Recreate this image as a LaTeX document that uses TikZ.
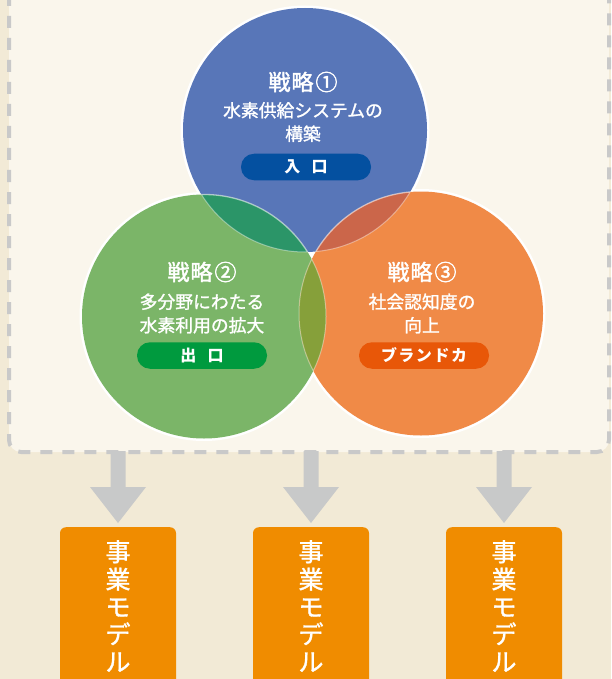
\documentclass[tikz,border=0pt]{standalone}
\usepackage{fontspec}
\newfontfamily\jp{Noto Sans CJK JP}
\newfontfamily\jpm[FakeBold=1.3]{Noto Sans CJK JP}
\newfontfamily\jpb[FakeBold=1.8]{Noto Sans CJK JP}
\usetikzlibrary{calc}
\definecolor{bgout}{HTML}{F2EAD6}
\definecolor{panelc}{HTML}{FAF6EC}
\definecolor{dashc}{HTML}{C9C9C9}
\definecolor{arrowc}{HTML}{C8C9C9}
\definecolor{boxc}{HTML}{F08C00}
\definecolor{cblue}{HTML}{5876B8}
\definecolor{cgreen}{HTML}{7BB568}
\definecolor{corange}{HTML}{F08A47}
\definecolor{cbg}{HTML}{2B9568}
\definecolor{cbo}{HTML}{CB664A}
\definecolor{cgo}{HTML}{86A03A}
\definecolor{pblue}{HTML}{0450A0}
\definecolor{pgreen}{HTML}{009A3E}
\definecolor{porange}{HTML}{E85708}
\tikzset{
  title/.style={text=white, font=\jpb\fontsize{22}{24}\selectfont, inner sep=0pt},
  desc/.style={text=white, align=center, font=\jpm\fontsize{17.8}{23.5}\selectfont, inner sep=0pt},
  pill/.style={text=white, font=\jp\bfseries\fontsize{16}{18}\selectfont, minimum width=130pt, minimum height=26.5pt, rounded corners=13pt, inner sep=0pt},
  bizbox/.style={fill=boxc, rounded corners=6pt, minimum width=116pt, minimum height=170pt, anchor=north, inner sep=0pt},
  biztext/.style={text=white, align=center, anchor=north, inner sep=0pt, font=\jpm\fontsize{25}{27.5}\selectfont},
  blockarrow/.style={fill=arrowc}
}
\begin{document}
\begin{tikzpicture}[x=1pt,y=-1pt]
\useasboundingbox (0,0) rectangle (611,679);
\fill[bgout] (0,0) rectangle (611,679);
% panel
\draw[dashc, line width=4pt, dash pattern=on 12pt off 10pt, fill=panelc, rounded corners=12pt] (9,-40) rectangle (609,452);
% circles
\coordinate (cb) at (305,130);
\coordinate (cg) at (204,316.5);
\coordinate (co) at (421,313.5);
\fill[white] (cb) circle (124.5pt);
\fill[white] (cg) circle (124.5pt);
\fill[white] (co) circle (124.5pt);
\fill[cblue] (cb) circle (122pt);
\fill[cgreen] (cg) circle (122pt);
\fill[corange] (co) circle (122pt);
\begin{scope}
  \clip (cb) circle (122pt);
  \fill[cbg] (cg) circle (122pt);
  \fill[cbo] (co) circle (122pt);
\end{scope}
\begin{scope}
  \clip (cg) circle (122pt);
  \fill[cgo] (co) circle (122pt);
\end{scope}
% faint inner arcs
\begin{scope}
  \clip (cb) circle (122pt);
  \draw[white, opacity=0.55, line width=1.3pt] (cg) circle (122pt);
  \draw[white, opacity=0.55, line width=1.3pt] (co) circle (122pt);
\end{scope}
\begin{scope}
  \clip (cg) circle (122pt);
  \draw[white, opacity=0.4, line width=1pt] (cb) circle (122pt);
  \draw[white, opacity=0.4, line width=1pt] (co) circle (122pt);
\end{scope}
\begin{scope}
  \clip (co) circle (122pt);
  \draw[white, opacity=0.4, line width=1pt] (cb) circle (122pt);
  \draw[white, opacity=0.4, line width=1pt] (cg) circle (122pt);
\end{scope}
% texts - strategy 1
\node[title] (t1) at (303,82) {戦\hspace{1pt}略\hspace{2pt}①};
\node[desc] (d1) at (303,122) {水素供給システムの\\構築};
\node[pill, fill=pblue] (p1) at (306,167) {入\hspace{0.7em}口};
% strategy 2
\node[title] (t2) at (202,272) {戦\hspace{1pt}略\hspace{2pt}②};
\node[desc] (d2) at (202,313.5) {多分野にわたる\\水素利用の拡大};
\node[pill, fill=pgreen] (p2) at (202,355.5) {出\hspace{0.7em}口};
% strategy 3
\node[title] (t3) at (422,272) {戦\hspace{1pt}略\hspace{2pt}③};
\node[desc] (d3) at (422,313.5) {社会認知度の\\向上};
\node[pill, fill=porange] (p3) at (424,355.5) {ブ\hspace{1.5pt}ラ\hspace{1.5pt}ン\hspace{1.5pt}ド\hspace{1.5pt}カ};
% boxes
\foreach \i/\x in {1/118, 2/311, 3/504} {
  \node[bizbox] (b\i) at (\x,527) {};
  \node[biztext] (bt\i) at (\x,540) {事\\業\\モ\\デ\\ル};
  \fill[blockarrow] ($(b\i.north)+(-7.5,-76)$) -- ($(b\i.north)+(7.5,-76)$) -- ($(b\i.north)+(7.5,-40)$) -- ($(b\i.north)+(28,-40)$) -- ($(b\i.north)+(0,-4)$) -- ($(b\i.north)+(-28,-40)$) -- ($(b\i.north)+(-7.5,-40)$) -- cycle;
}
\end{tikzpicture}
\end{document}
